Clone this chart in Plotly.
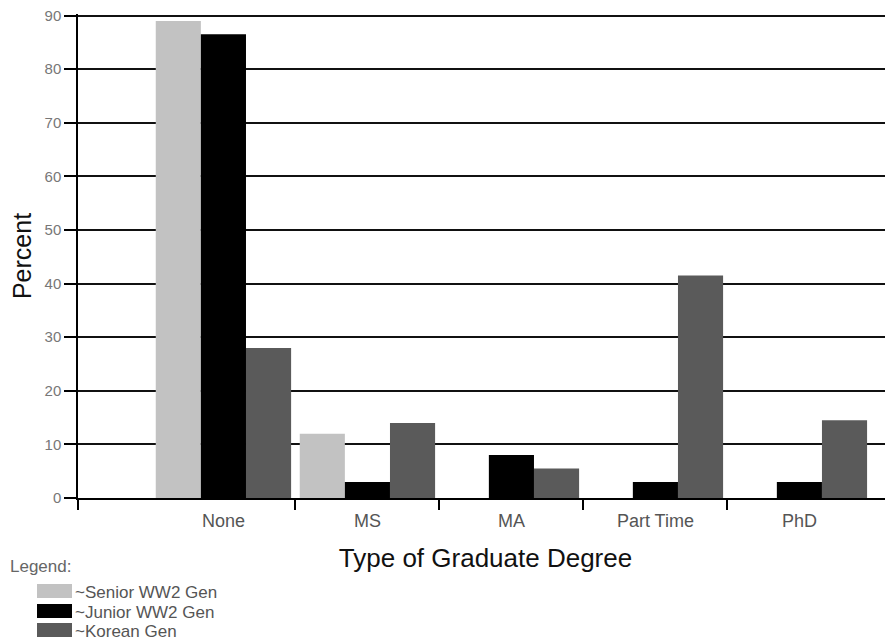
import plotly.graph_objects as go

categories = ["None", "MS", "MA", "Part Time", "PhD"]
series_names = ["~Senior WW2 Gen", "~Junior WW2 Gen", "~Korean Gen"]
senior_ww2 = [89, 12, 0, 0, 0]
junior_ww2 = [86.5, 3, 8, 3, 3]
korean = [28, 14, 5.5, 41.5, 14.5]
series_values = [senior_ww2, junior_ww2, korean]
colors = ["#c2c2c2", "#000000", "#5a5a5a"]
y_ticks = list(range(0, 100, 10))

OFF = 8  # browser body margin
W, H = 893 - OFF, 641 - OFF
ML, MR, MT = 78 - OFF, 0, 14 - OFF
MB = H - (498 - OFF)
pw, ph = W - ML - MR, H - MT - MB

xrange = [-1.01, 4.65]
boundaries = [xrange[0]] + [i + 0.5 for i in range(len(categories) - 1)]

fig = go.Figure()
for name, vals, col in zip(series_names, series_values, colors):
    fig.add_trace(go.Bar(x=categories, y=vals, name=name, marker=dict(color=col, line=dict(width=0)),
                         showlegend=False))
# dummy trace to register overlay axis for boundary ticks
fig.add_trace(go.Scatter(x=[], y=[], xaxis="x2", showlegend=False))

font_family = "Liberation Sans, Arial, sans-serif"

fig.update_layout(
    width=W, height=H,
    margin=dict(l=ML, r=MR, t=MT, b=MB, autoexpand=False),
    paper_bgcolor="white", plot_bgcolor="white",
    barmode="group", bargap=0.06, bargroupgap=0,
    font=dict(family=font_family, color="#000"),
    xaxis=dict(
        type="category", range=xrange, showline=True, linecolor="#000", linewidth=1.5,
        ticks="", showgrid=False, zeroline=False,
        tickfont=dict(size=18, color="#555"), ticklabelstandoff=6,
        title=dict(text="Type of Graduate Degree", font=dict(size=26, color="#111"), standoff=18),
    ),
    xaxis2=dict(
        overlaying="x", anchor="y", side="bottom", range=xrange, type="linear",
        tickmode="array", tickvals=boundaries, ticks="outside", ticklen=11, tickwidth=1.5,
        tickcolor="#000", showticklabels=False, showgrid=False, zeroline=False, showline=False,
    ),
    yaxis=dict(
        range=[0, 90.3], tickmode="array", tickvals=y_ticks, ticks="outside", ticklen=12,
        tickwidth=1.5, tickcolor="#000", showline=True, linecolor="#000", linewidth=1.5,
        showgrid=True, gridcolor="#111", gridwidth=1.7, zeroline=False,
        tickfont=dict(size=15, color="#777"), ticklabeloverflow="allow",
        title=dict(text="Percent", font=dict(size=25, color="#111"), standoff=12),
    ),
)

# manual legend below the chart (positions given in screen pixels)
def px_to_paper_x(px):
    return (px - OFF - ML) / pw

def px_to_paper_y(py):
    return (H - MB - (py - OFF)) / ph

fig.add_annotation(text="Legend:", xref="paper", yref="paper", x=px_to_paper_x(8), y=px_to_paper_y(566),
                   xanchor="left", yanchor="middle", showarrow=False, font=dict(size=17, color="#666"))
row_y = [591, 611, 630]
for name, col, cy in zip(series_names, colors, row_y):
    fig.add_shape(type="rect", xref="paper", yref="paper",
                  x0=px_to_paper_x(37), x1=px_to_paper_x(72),
                  y0=px_to_paper_y(cy - 7), y1=px_to_paper_y(cy + 7),
                  fillcolor=col, line=dict(width=0), layer="above")
    fig.add_annotation(text=name, xref="paper", yref="paper", x=px_to_paper_x(73), y=px_to_paper_y(cy + 1),
                       xanchor="left", yanchor="middle", showarrow=False, font=dict(size=17, color="#555"))

fig.write_html("out.html")
